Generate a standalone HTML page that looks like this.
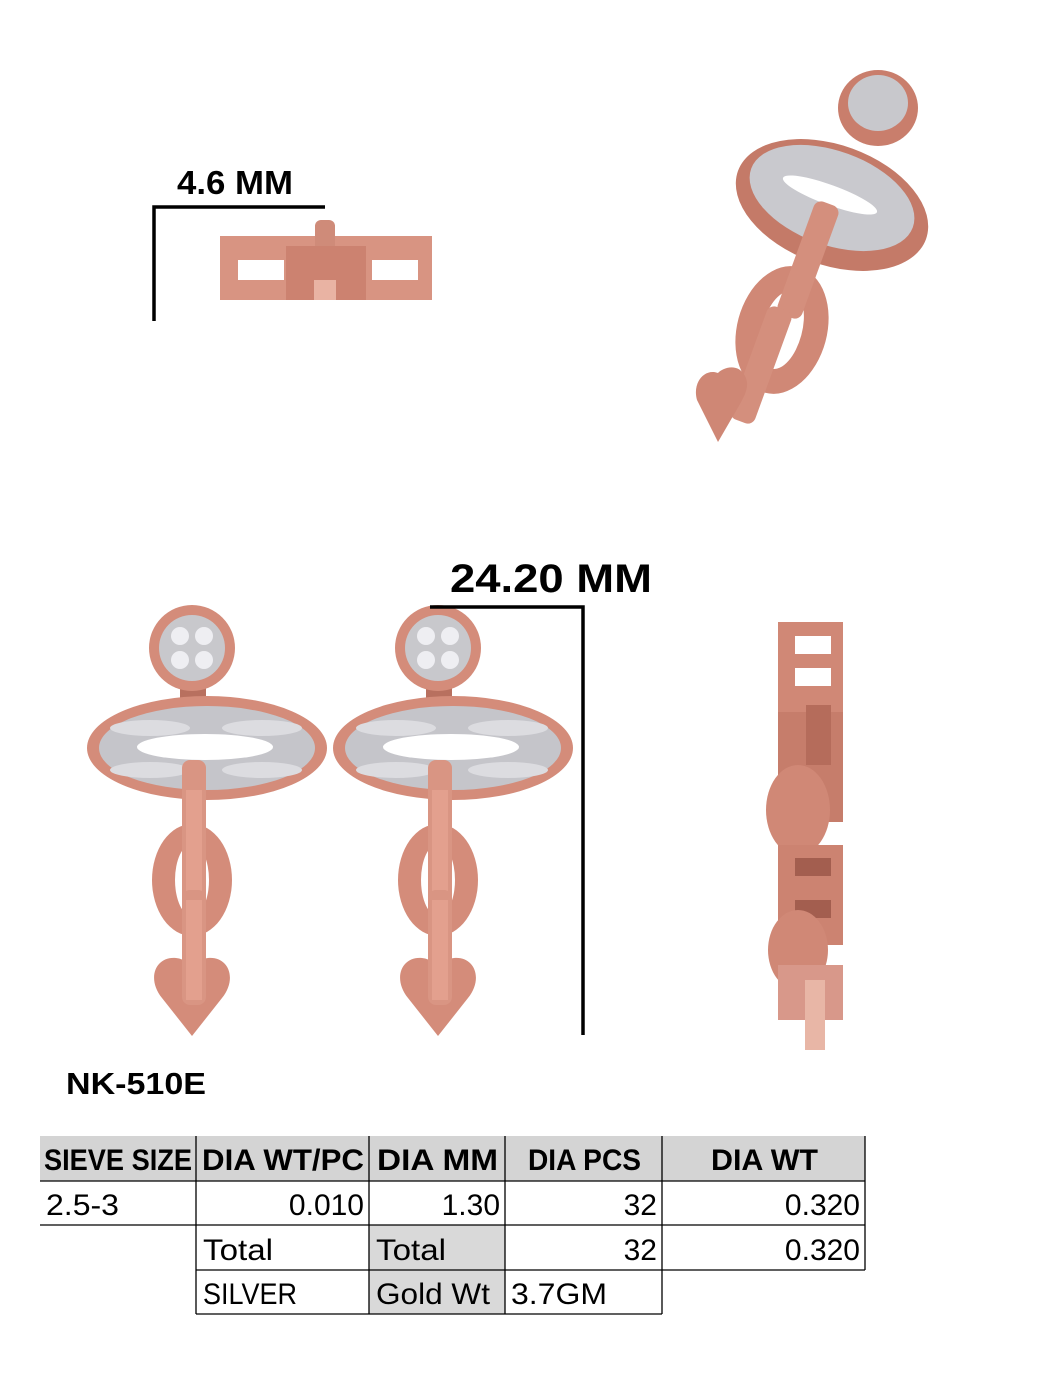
<!DOCTYPE html>
<html><head><meta charset="utf-8"><style>
html,body{margin:0;padding:0;background:#fff}
svg{display:block}
</style></head><body>
<svg width="1048" height="1380" viewBox="0 0 1048 1380" xmlns="http://www.w3.org/2000/svg">
<defs>
<g id="ear">
  <rect x="180" y="680" width="26" height="20" fill="#b8705f"/>
  <circle cx="192" cy="648" r="43" fill="#d48c7a"/>
  <circle cx="192" cy="648" r="33" fill="#c8c8cc"/>
  <circle cx="180" cy="636" r="9" fill="#eeeef2"/><circle cx="204" cy="636" r="9" fill="#eeeef2"/>
  <circle cx="180" cy="660" r="9" fill="#eeeef2"/><circle cx="204" cy="660" r="9" fill="#eeeef2"/>
  <ellipse cx="207" cy="748" rx="120" ry="52" fill="#d48c7a"/>
  <ellipse cx="207" cy="748" rx="108" ry="42" fill="#c5c5ca"/>
  <ellipse cx="150" cy="728" rx="40" ry="8" fill="#dcdce0"/><ellipse cx="262" cy="728" rx="40" ry="8" fill="#dcdce0"/>
  <ellipse cx="150" cy="770" rx="40" ry="8" fill="#dcdce0"/><ellipse cx="262" cy="770" rx="40" ry="8" fill="#dcdce0"/>
  <ellipse cx="205" cy="747" rx="68" ry="13" fill="#fff"/>
  <ellipse cx="192" cy="880" rx="40" ry="56" fill="#d48c7a"/>
  <ellipse cx="192" cy="880" rx="17" ry="36" fill="#fff"/>
  <rect x="182" y="760" width="24" height="145" rx="8" fill="#d99583"/>
  <rect x="186" y="790" width="16" height="110" fill="#e3a08e"/>
  <path d="M192 1036 L162 998 C146 978 156 956 176 958 C185 959 190 964 192 970 C194 964 199 959 208 958 C228 956 238 978 222 998 Z" fill="#d48c7a"/>
  <rect x="182" y="890" width="24" height="115" rx="8" fill="#d99583"/>
  <rect x="186" y="900" width="16" height="100" fill="#e3a08e"/>
</g>
</defs>

<text x="177" y="194" font-family="Liberation Sans, sans-serif" font-weight="bold" font-size="33" textLength="116" lengthAdjust="spacingAndGlyphs">4.6 MM</text>
<path d="M154 321 V207 H325" stroke="#000" stroke-width="3.5" fill="none"/>
<rect x="220" y="236" width="212" height="64" fill="#d89482"/>
<rect x="238" y="260" width="46" height="20" fill="#fff"/>
<rect x="372" y="260" width="46" height="20" fill="#fff"/>
<rect x="315" y="220" width="20" height="40" rx="6" fill="#cf8b79"/>
<rect x="286" y="246" width="80" height="54" fill="#cc8270"/>
<rect x="314" y="280" width="22" height="20" fill="#e9b3a3"/>

<g>
  <ellipse cx="878" cy="108" rx="40" ry="38" fill="#c97e6c"/>
  <ellipse cx="878" cy="103" rx="30" ry="28" fill="#c8c8cc"/>
  <ellipse cx="832" cy="205" rx="100" ry="60" transform="rotate(20 832 205)" fill="#c47a68"/>
  <ellipse cx="832" cy="198" rx="86" ry="47" transform="rotate(20 832 198)" fill="#c9c9ce"/>
  <ellipse cx="830" cy="195" rx="50" ry="10" transform="rotate(20 830 195)" fill="#fff"/>
  <ellipse cx="782" cy="330" rx="45" ry="65" transform="rotate(15 782 330)" fill="#d08876"/>
  <ellipse cx="782" cy="330" rx="20" ry="40" transform="rotate(15 782 330)" fill="#fff"/>
  <rect x="795" y="200" width="26" height="120" rx="8" transform="rotate(20 808 260)" fill="#d48f7d"/>
  <rect x="748" y="305" width="26" height="120" rx="8" transform="rotate(20 761 365)" fill="#d48f7d"/>
  <path d="M718 442 L697 400 C692 382 705 368 718 373 C722 368 738 362 745 376 C750 386 745 395 740 404 Z" fill="#cf8775"/>
</g>

<use href="#ear"/>
<use href="#ear" transform="translate(246 0)"/>

<text x="450" y="592" font-family="Liberation Sans, sans-serif" font-weight="bold" font-size="40" textLength="202" lengthAdjust="spacingAndGlyphs">24.20 MM</text>
<path d="M430 607 H583 V1035" stroke="#000" stroke-width="3.5" fill="none"/>

<g>
  <rect x="778" y="622" width="65" height="90" fill="#d08876"/>
  <rect x="795" y="636" width="36" height="18" fill="#fff"/>
  <rect x="795" y="668" width="36" height="18" fill="#fff"/>
  <rect x="778" y="712" width="65" height="110" fill="#c67d6b"/>
  <rect x="806" y="705" width="25" height="60" fill="#b56c5b"/>
  <ellipse cx="798" cy="810" rx="32" ry="45" fill="#d08876"/>
  <rect x="778" y="845" width="65" height="100" fill="#cc8371"/>
  <rect x="795" y="858" width="36" height="18" fill="#a35e4f"/>
  <rect x="795" y="900" width="36" height="18" fill="#a35e4f"/>
  <ellipse cx="798" cy="950" rx="30" ry="40" fill="#d08876"/>
  <rect x="778" y="965" width="65" height="55" fill="#d8988a"/>
  <rect x="805" y="980" width="20" height="70" fill="#e8b6a6"/>
</g>

<text x="66" y="1094" font-family="Liberation Sans, sans-serif" font-weight="bold" font-size="31" textLength="140" lengthAdjust="spacingAndGlyphs">NK-510E</text>

<g font-family="Liberation Sans, sans-serif" font-size="30" fill="#000">
  <rect x="40" y="1136" width="825" height="45" fill="#d4d4d4"/>
  <rect x="369" y="1225" width="136" height="89" fill="#d9d9d9"/>
  <g stroke="#000" stroke-width="1.3" fill="none">
    <path d="M40 1181 H865 M40 1225 H865 M196 1270 H865 M196 1314 H662"/>
    <path d="M196 1136 V1314 M369 1136 V1314 M505 1136 V1314 M662 1136 V1314 M865 1136 V1270"/>
  </g>
  <g font-weight="bold">
    <text x="44" y="1170" textLength="148" lengthAdjust="spacingAndGlyphs">SIEVE SIZE</text>
    <text x="202" y="1170" textLength="162" lengthAdjust="spacingAndGlyphs">DIA WT/PC</text>
    <text x="377" y="1170" textLength="121" lengthAdjust="spacingAndGlyphs">DIA MM</text>
    <text x="528" y="1170" textLength="113" lengthAdjust="spacingAndGlyphs">DIA PCS</text>
    <text x="711" y="1170" textLength="107" lengthAdjust="spacingAndGlyphs">DIA WT</text>
  </g>
  <text x="46" y="1215" textLength="73" lengthAdjust="spacingAndGlyphs">2.5-3</text>
  <text x="364" y="1215" text-anchor="end">0.010</text>
  <text x="500" y="1215" text-anchor="end">1.30</text>
  <text x="657" y="1215" text-anchor="end">32</text>
  <text x="860" y="1215" text-anchor="end">0.320</text>
  <text x="203" y="1260" textLength="70" lengthAdjust="spacingAndGlyphs">Total</text>
  <text x="376" y="1260" textLength="70" lengthAdjust="spacingAndGlyphs">Total</text>
  <text x="657" y="1260" text-anchor="end">32</text>
  <text x="860" y="1260" text-anchor="end">0.320</text>
  <text x="203" y="1304" textLength="94" lengthAdjust="spacingAndGlyphs">SILVER</text>
  <text x="376" y="1304" textLength="114" lengthAdjust="spacingAndGlyphs">Gold Wt</text>
  <text x="511" y="1304" textLength="96" lengthAdjust="spacingAndGlyphs">3.7GM</text>
</g>
</svg>
</body></html>
